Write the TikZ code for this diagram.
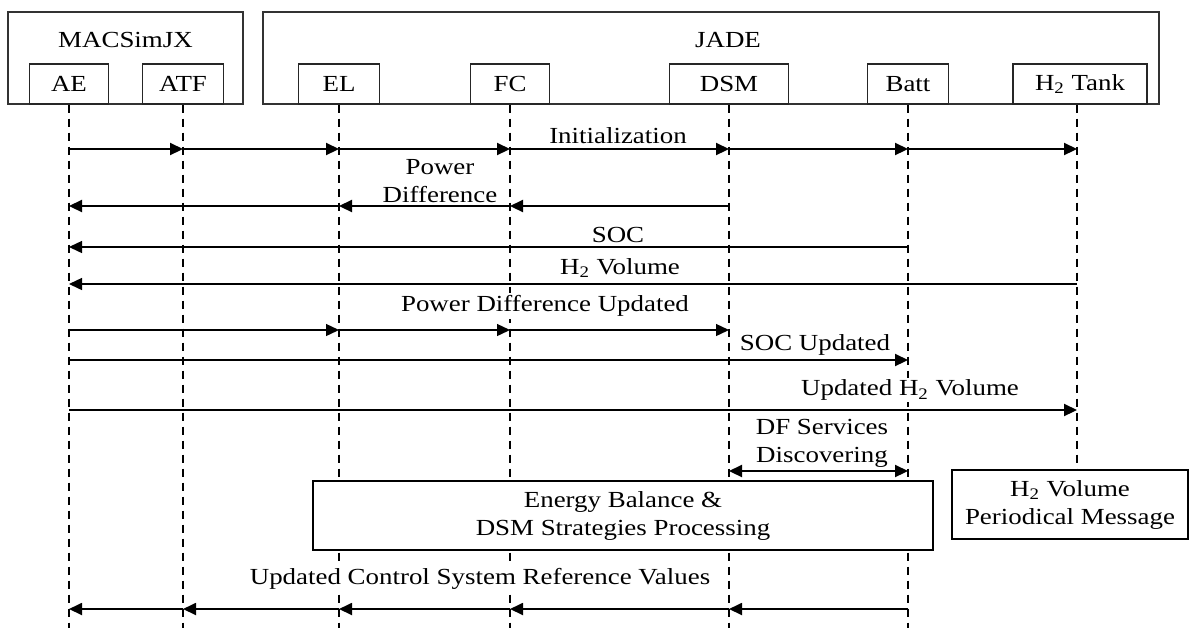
\documentclass[tikz,border=0pt]{standalone}
\usepackage{fontspec}
\setmainfont{Liberation Serif}[FakeStretch=1.17]
\usepackage{tikz}
\usetikzlibrary{positioning, arrows.meta}

\begin{document}
\begin{tikzpicture}[x=0.5pt, y=-0.5pt, font=\fontsize{11.5}{14}\selectfont,
    group/.style={draw=black!80, line width=0.6pt, minimum height=46pt, inner sep=0pt},
    head/.style={draw=black!85, fill=white, line width=0.6pt, minimum height=20pt, inner sep=0pt},
    life/.style={dashed, dash pattern=on 4pt off 3pt, line width=0.55pt},
    lifebold/.style={life, line width=1.1pt},
    msg/.style={-{Triangle[length=6.5pt,width=6pt]}, line width=1.1pt},
    msgthin/.style={msg, line width=0.7pt},
    lbl/.style={fill=white, inner sep=1pt, align=center},
    procbox/.style={draw, fill=white, line width=1.1pt, minimum height=34.5pt, align=center, inner sep=0pt}]
  \useasboundingbox (0,0) rectangle (1201,628);
  % frames of the two platforms
  \node[group, minimum width=117.5pt] (macs) at (125.5,58) {};
  \node[group, minimum width=448pt] (jade) at (711,58) {};
  \node (macslbl) at (125.5,40) {MACSimJX};
  \node (jadelbl) at (728,40) {JADE};
  % agents
  \foreach \n/\x/\w/\t in {ae/69/39.5/AE, atf/183/40.5/ATF, el/339/40.5/EL, fc/510/39.5/FC,
      dsm/729/59.5/DSM, batt/908/40.5/Batt, tank/1080/67/{H\textsubscript{2} Tank}}
    \node[head, minimum width=\w pt] (\n) at (\x,84) {\t};
  \foreach \n in {ae,atf,el,fc,dsm,batt,tank}
    \coordinate (\n-end) at (\n |- 0,628);
  \coordinate (tank-top) at ([xshift=-1.5pt]tank.south);
  % life lines
  \foreach \n in {ae,fc,batt}
    \draw[lifebold] (\n.south) -- (\n-end);
  \foreach \n in {atf,el,dsm}
    \draw[life] (\n.south) -- (\n-end);
  % processing boxes
  \node[procbox, minimum width=310pt] (proc) at (623,515.5) {Energy Balance \&\\ DSM Strategies Processing};
  \node[procbox, minimum width=118pt] (h2msg) at (1070,504.5) {H\textsubscript{2} Volume\\ Periodical Message};
  \draw[life] (tank-top) -- (tank-top |- h2msg.north);
  % initialization
  \foreach \a/\b in {ae/atf, atf/el, el/fc, fc/dsm, dsm/batt}
    \draw[msg] (\a |- 0,149) -- (\b |- 0,149);
  \draw[msg] (batt |- 0,149) -- (tank-top |- 0,149);
  \node[lbl] (init) at (618,136) {Initialization};
  % power difference
  \foreach \a/\b in {dsm/fc, fc/el, el/ae}
    \draw[msg] (\a |- 0,206) -- (\b |- 0,206);
  \node[lbl] (pdiff) at (440,181) {Power\\ Difference};
  % SOC and H2 volume
  \draw[msgthin] (batt |- 0,247) -- (ae |- 0,247);
  \node[lbl] (soc) at (618,235) {SOC};
  \draw[msgthin] (tank-top |- 0,284) -- (ae |- 0,284);
  \node[lbl] (h2vol) at (620,268) {H\textsubscript{2} Volume};
  % updates
  \foreach \a/\b in {ae/el, el/fc, fc/dsm}
    \draw[msgthin] (\a |- 0,330) -- (\b |- 0,330);
  \node[lbl] (pdupd) at (545,306) {Power Difference Updated};
  \draw[msg] (ae |- 0,360) -- (batt |- 0,360);
  \node[lbl] (socupd) at (815,345) {SOC Updated};
  \draw[msg] (ae |- 0,410) -- (tank-top |- 0,410);
  \node[lbl] (h2upd) at (910,390) {Updated H\textsubscript{2} Volume};
  % DF services
  \draw[msg, {Triangle[length=6.5pt,width=6pt]}-{Triangle[length=6.5pt,width=6pt]}] (dsm |- 0,471) -- (batt |- 0,471);
  \node[lbl] (dfserv) at (822,443) {DF Services\\ Discovering};
  % reference values
  \foreach \a/\b in {batt/dsm, dsm/fc, fc/el, el/atf, atf/ae}
    \draw[msg, line width=0.9pt] (\a |- 0,609) -- (\b |- 0,609);
  \node[lbl] (refval) at (480,579) {Updated Control System Reference Values};
\end{tikzpicture}
\end{document}
